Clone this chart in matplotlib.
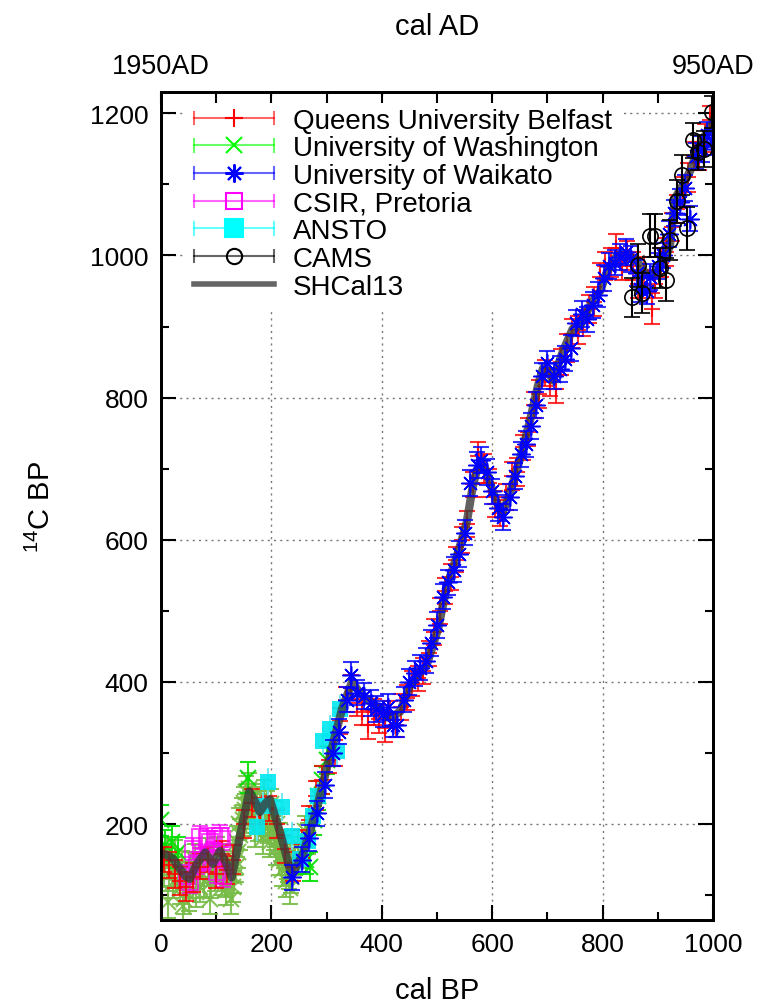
import matplotlib
matplotlib.use("Agg")
import matplotlib.pyplot as plt
from matplotlib.lines import Line2D
from matplotlib.legend_handler import HandlerBase
from matplotlib.ticker import MultipleLocator, FixedLocator, FixedFormatter

plt.rcParams['font.family'] = ['Liberation Sans', 'DejaVu Sans']
plt.rcParams['mathtext.fontset'] = 'custom'
plt.rcParams['mathtext.rm'] = 'Liberation Sans'
plt.rcParams['mathtext.default'] = 'regular'

# ---------------- data (cal BP, 14C BP, 1-sigma) ----------------
shcal_x = [0, 10, 22, 34, 45, 52, 65, 80, 94, 107, 118, 128, 143, 160, 170, 179, 188, 197,
           215, 237, 258, 282, 306, 328, 346, 360, 373, 385, 397, 410, 420, 433, 451, 466,
           481, 492, 502, 518, 536, 545, 554, 565, 573, 581, 590, 600, 610, 618, 630, 645,
           655, 668, 683, 692, 700, 710, 728, 746, 759, 781, 795, 808, 826, 844, 858, 868,
           880, 893, 904, 913, 922, 931, 946, 958, 971, 983, 995, 1000]
shcal_y = [158, 157, 151, 137, 126, 123, 144, 160, 144, 162, 145, 125, 183, 246, 232, 217, 228, 235,
           190, 127, 160, 221, 296, 362, 400, 385, 376, 368, 362, 350, 352, 358, 394, 410,
           423, 450, 475, 535, 577, 600, 625, 676, 700, 711, 695, 670, 650, 637, 660, 700,
           727, 766, 817, 841, 838, 824, 865, 897, 901, 935, 949, 977, 1000, 1000, 995, 986,
           972, 975, 982, 995, 1014, 1080, 1100, 1118, 1146, 1165, 1183, 1190]

qub_x = [5, 15, 25, 35, 45, 58, 70, 85, 100, 110, 120, 130, 150, 165, 180, 195, 210, 225, 240,
         255, 268, 280, 292, 305, 315, 325, 335, 345, 355, 365, 375, 385, 395, 405, 415, 425,
         435, 445, 455, 465, 475, 485, 495, 505, 515, 525, 535, 545, 555, 565, 575, 585, 595,
         605, 615, 625, 635, 645, 655, 665, 675, 685, 695, 705, 715, 725, 735, 745, 755, 765,
         775, 785, 795, 805, 815, 825, 835, 845, 855, 865, 875, 889, 895, 905, 915, 925, 935,
         945, 955, 965, 975, 985, 995]
qub_y = [150, 142, 130, 120, 112, 125, 140, 150, 130, 158, 135, 150, 200, 230, 218, 222, 200, 165, 140,
         172, 205, 240, 262, 290, 300, 345, 375, 392, 370, 358, 340, 358, 348, 335, 355, 340,
         365, 378, 398, 405, 415, 440, 470, 500, 528, 548, 572, 600, 622, 678, 718, 700, 680,
         650, 638, 660, 690, 695, 730, 752, 790, 805, 835, 822, 812, 850, 870, 890, 895, 905,
         925, 935, 970, 985, 990, 1010, 985, 1000, 985, 960, 978, 925, 960, 990, 1005, 1040, 1065,
         1090, 1110, 1140, 1140, 1165, 1190]
qub_e = [18, 18, 20, 20, 20, 20, 18, 18, 20, 18, 20, 20, 20, 20, 18, 18, 20, 20, 20,
         20, 20, 20, 20, 18, 18, 18, 18, 18, 18, 18, 20, 18, 20, 20, 18, 18,
         18, 18, 18, 18, 18, 18, 18, 18, 18, 18, 18, 18, 18, 18, 20, 20, 20,
         18, 18, 18, 20, 20, 18, 20, 18, 20, 18, 20, 20, 18, 20, 20, 20, 18,
         20, 20, 20, 20, 20, 20, 20, 20, 20, 20, 20, 22, 20, 20, 20, 20, 20,
         20, 20, 20, 20, 20, 20]

uw_x = [2, 6, 10, 14, 18, 22, 26, 30, 34, 38, 42, 46, 50, 54, 58, 62, 66, 70, 74, 78, 82, 86,
        90, 94, 98, 102, 106, 110, 114, 118, 122, 126, 130, 134, 138, 142, 146, 150, 154, 160,
        164, 168, 172, 176, 180, 186, 190, 196, 200, 206, 212, 218, 224, 230, 236, 242, 248,
        254, 260, 266,
        132, 136, 140, 144, 148, 152, 156, 162, 166, 170, 174, 178, 182, 184, 188, 192, 194,
        198, 202, 204, 208, 210, 214, 216, 220, 222, 226, 228, 232, 234, 12, 40, 64, 88, 116]
uw_y = [150, 135, 160, 128, 145, 118, 155, 132, 110, 140, 95, 125, 100, 138, 118, 150, 130, 112,
        145, 120, 158, 135, 118, 148, 128, 160, 140, 122, 150, 108, 130, 95, 112, 150, 175, 200,
        215, 230, 245, 250, 235, 225, 210, 198, 220, 240, 215, 205, 228, 190, 180, 170, 150, 140,
        125, 150, 170, 160, 190, 180,
        125, 140, 160, 185, 205, 220, 235, 225, 210, 190, 230, 215, 200, 180, 205, 225, 195,
        175, 210, 185, 165, 200, 150, 180, 135, 160, 120, 145, 130, 110, 90, 85, 105, 95, 120]
uw_e = [22] * 95
uw2_x = [0, 8, 20, 30, 158, 262, 270, 278, 285, 292, 300]
uw2_y = [205, 170, 175, 160, 265, 150, 140, 205, 240, 262, 290]
uw2_e = [22, 22, 22, 22, 22, 20, 20, 20, 20, 20, 20]

wk_x = [237, 255, 268, 283, 298, 312, 322, 337, 345, 355, 368, 380, 390, 402, 412, 420, 428,
        440, 450, 460, 470, 480, 490, 500, 510, 520, 530, 540, 550, 560, 572, 580, 590, 600,
        610, 620, 632, 642, 652, 662, 670, 680, 690, 700, 712, 722, 732, 742, 752, 762, 772,
        782, 792, 802, 812, 822, 832, 842, 852, 862, 868, 880, 886, 900, 910, 920, 930, 940,
        950, 958, 970, 980, 990, 998]
wk_y = [125, 150, 180, 215, 255, 300, 330, 375, 410, 385, 380, 370, 362, 355, 365, 340, 340,
        375, 400, 412, 420, 430, 455, 480, 520, 540, 558, 580, 610, 680, 705, 712, 695, 668,
        645, 632, 660, 690, 720, 735, 760, 790, 830, 848, 830, 840, 855, 870, 905, 918, 910,
        930, 945, 968, 985, 990, 998, 1005, 995, 975, 953, 950, 970, 985, 1000, 1030, 1060, 1075,
        1095, 1052, 1140, 1150, 1170, 1160]
wk_e = [18] * 74

csir_x = [47, 52, 58, 65, 71, 76, 83, 89, 94, 101, 107, 110, 112]
csir_y = [127, 118, 165, 145, 182, 150, 179, 175, 160, 132, 183, 179, 127]
csir_e = [15] * 13

ansto_x = [174, 185, 194, 219, 237, 252, 266, 275, 284, 294, 306, 319, 324]
ansto_y = [196, 225, 259, 224, 183, 151, 176, 211, 239, 317, 334, 303, 362]
ansto_e = [20] * 13

cams_x = [853, 864, 872, 886, 895, 904, 915, 922, 934, 943, 953, 964, 972, 983, 998]
cams_y = [941, 986, 947, 1028, 1028, 982, 966, 1022, 1076, 1113, 1038, 1162, 1145, 1150, 1202]
cams_e = [28, 30, 28, 30, 30, 28, 30, 28, 30, 28, 30, 25, 25, 25, 22]

# ---------------- figure ----------------
fig = plt.figure(figsize=(7.61, 10.03), dpi=100)
ax = fig.add_axes([161 / 761, 82 / 1003, 552 / 761, 828 / 1003])
ax.set_xlim(0, 1000)
ax.set_ylim(65, 1230)

C_RED = '#ff0000'
C_GRN = '#00e000'
C_OLV = '#78bc48'
C_BLU = '#0000ff'
C_MAG = '#ff00ff'
C_CYA = '#00e8f0'
C_BLK = '#000000'
CAP = 5.5
EW = 1.5

ax.errorbar(uw_x, uw_y, yerr=uw_e, fmt='x', color=C_OLV, ms=12, mew=1.5, elinewidth=EW,
            capsize=CAP, capthick=EW, alpha=0.9, zorder=3)
ax.errorbar(uw2_x, uw2_y, yerr=uw2_e, fmt='x', color=C_GRN, ms=12, mew=1.5, elinewidth=EW,
            capsize=CAP, capthick=EW, alpha=0.9, zorder=3.1)
ax.errorbar(csir_x, csir_y, yerr=csir_e, fmt='s', color=C_MAG, mfc='none', ms=12, mew=1.5,
            elinewidth=EW, capsize=CAP, capthick=EW, alpha=0.7, zorder=3.2)
ax.errorbar(qub_x, qub_y, yerr=qub_e, fmt='+', color=C_RED, ms=12, mew=1.5, elinewidth=EW,
            capsize=CAP, capthick=EW, alpha=0.8, zorder=3.3)
ax.errorbar(ansto_x, ansto_y, yerr=ansto_e, fmt='s', color=C_CYA, ms=12, mew=0,
            elinewidth=EW, ecolor='#66e6f0', capsize=CAP, capthick=EW, alpha=0.9, zorder=3.4)
ax.plot(shcal_x, shcal_y, color='#3a3a3a', lw=6, alpha=0.8, solid_joinstyle='round', zorder=4)
ax.errorbar(wk_x, wk_y, yerr=wk_e, fmt='none', color=C_BLU, elinewidth=EW,
            capsize=CAP, capthick=EW, alpha=0.8, zorder=4.5)
ax.plot(wk_x, wk_y, linestyle='none', marker=(8, 2, 0), ms=13, mew=1.1, color=C_BLU, zorder=4.6)
ax.errorbar(cams_x, cams_y, yerr=cams_e, fmt='o', color=C_BLK, mfc='none', ms=11, mew=1.2,
            elinewidth=EW, capsize=CAP, capthick=EW, zorder=5)

# ---------------- axes styling ----------------
FS = 19
ax.xaxis.set_major_locator(MultipleLocator(200))
ax.xaxis.set_minor_locator(MultipleLocator(100))
ax.yaxis.set_major_locator(MultipleLocator(200))
ax.yaxis.set_minor_locator(MultipleLocator(100))
ax.tick_params(which='major', direction='in', length=11, width=1.5, labelsize=FS, pad=9,
               left=True, right=True, bottom=True, top=False)
ax.tick_params(which='minor', direction='in', length=6, width=1.5,
               left=True, right=True, bottom=True, top=False)
ax.grid(which='major', linestyle=(0, (1.5, 3)), color='#777777', linewidth=1.0, zorder=0)
ax.set_axisbelow(True)
for s in ax.spines.values():
    s.set_linewidth(2)
ax.set_xlabel('cal BP', fontsize=21, labelpad=14)
ax.set_ylabel(r'$^{14}$C BP', fontsize=21)
ax.yaxis.set_label_coords(-0.19, 0.5)

ax2 = ax.twiny()
ax2.set_xlim(ax.get_xlim())
ax2.xaxis.set_major_locator(FixedLocator(list(range(0, 1001, 100))))
top_labels = ['1950AD'] + [''] * 9 + ['950AD']
ax2.xaxis.set_major_formatter(FixedFormatter(top_labels))
ax2.tick_params(which='major', direction='in', length=8, width=1.5, labelsize=FS + 0.5, pad=9)
ax2.set_xlabel('cal AD', fontsize=21, labelpad=14)
for s in ax2.spines.values():
    s.set_linewidth(2)


# ---------------- legend ----------------
class HandlerErr(HandlerBase):
    def __init__(self, color, marker, ms, mfc, mew=1.5):
        super().__init__()
        self.c = color
        self.m = marker
        self.ms = ms
        self.mfc = mfc
        self.mew = mew

    def create_artists(self, legend, orig_handle, xdescent, ydescent, width, height,
                       fontsize, trans):
        yc = 0.5 * height - ydescent
        x0 = -xdescent
        x1 = x0 + width
        cap = 4.5
        arts = [Line2D([x0, x1], [yc, yc], color=self.c, lw=1.5, alpha=0.6),
                Line2D([x0, x0], [yc - cap, yc + cap], color=self.c, lw=1.5, alpha=0.6),
                Line2D([x1, x1], [yc - cap, yc + cap], color=self.c, lw=1.5, alpha=0.6),
                Line2D([(x0 + x1) / 2], [yc], marker=self.m, ms=self.ms, color=self.c,
                       mfc=self.mfc, mew=self.mew, linestyle='none')]
        for a in arts:
            a.set_transform(trans)
        return arts


labels = ['Queens University Belfast', 'University of Washington', 'University of Waikato',
          'CSIR, Pretoria', 'ANSTO', 'CAMS', 'SHCal13']
specs = [(C_RED, '+', 13, C_RED), ('#00ff00', 'x', 12, '#00ff00'), (C_BLU, (8, 2, 0), 13, C_BLU),
         (C_MAG, 's', 11, 'none'), ('#00ffff', 's', 13, '#00ffff'), (C_BLK, 'o', 11, 'none')]
handles = [Line2D([], [], label=l) for l in labels[:6]]
shc = Line2D([], [], color='#666666', lw=4)
hmap = {h: HandlerErr(*sp) for h, sp in zip(handles, specs)}
leg = ax.legend(handles + [shc], labels, handler_map=hmap, loc='upper left',
                bbox_to_anchor=(0.042, 0.993), borderaxespad=0, fontsize=20, handlelength=2.9,
                handletextpad=0.65, labelspacing=0.06, frameon=True, framealpha=1,
                facecolor='white', edgecolor='none', borderpad=0.35, fancybox=False)
leg.set_zorder(2.5)

fig.savefig('out.png', dpi=100)
